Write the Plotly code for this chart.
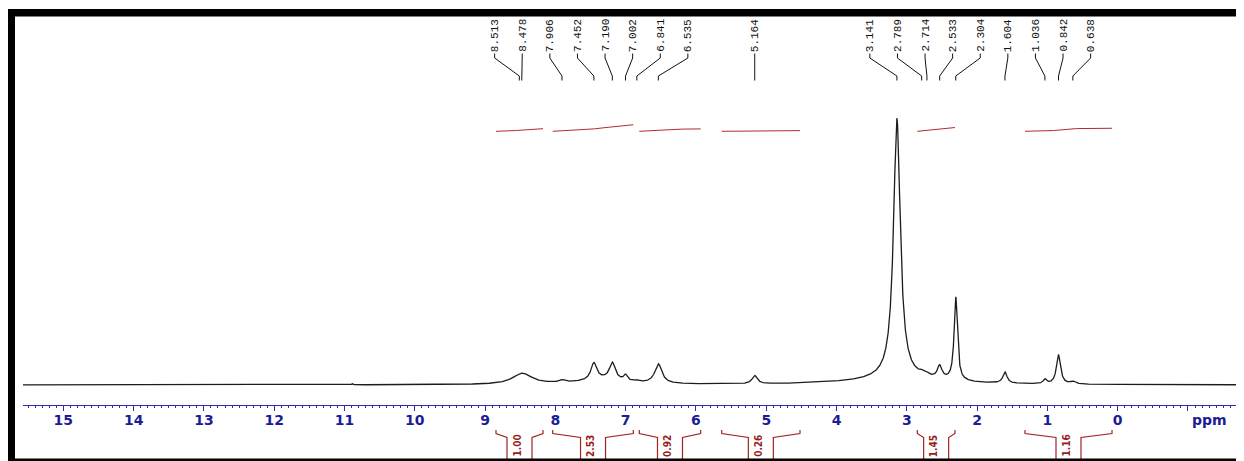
import numpy as np
import plotly.graph_objects as go

# ---------------- data ----------------
# Peak table: chemical shift (ppm), height above baseline, half width (ppm)
peak_ppm    = [10.89, 8.470, 7.906, 7.300, 7.452, 7.190, 7.002, 6.841, 6.535, 5.164,
               3.141, 3.141, 2.789, 2.714, 2.533, 2.304, 1.604, 1.036, 0.842, 0.638]
peak_height = [1.2, 11.0, 2.5, 5.0, 17.0, 17.0, 5.5, 1.5, 19.5, 8.3,
               260.0, 6.0, 2.5, 2.5, 12.7, 83.5, 11.2, 4.5, 29.0, 2.5]
peak_hwhm   = [0.008, 0.17, 0.05, 0.40, 0.05, 0.05, 0.03, 0.04, 0.06, 0.045,
               0.058, 0.80, 0.04, 0.04, 0.04, 0.028, 0.035, 0.025, 0.035, 0.04]

# Peak-pick labels printed at the top
label_ppm = [8.513, 8.478, 7.906, 7.452, 7.190, 7.002, 6.841, 6.535, 5.164,
             3.141, 2.789, 2.714, 2.533, 2.304, 1.604, 1.036, 0.842, 0.638]

# Integration regions and values
int_start = [8.845, 8.038, 6.806, 5.634, 2.851, 1.319]
int_end   = [8.176, 6.891, 5.933, 4.520, 2.315, 0.081]
int_value = [1.00, 2.53, 0.92, 0.26, 1.45, 1.16]

# Axis ticks
tick_ppm = list(range(15, -2, -1))
tick_text = [str(t) if t >= 0 else "" for t in tick_ppm]

# ---------------- geometry helpers (screen pixel layout) ----------------
OFF = 8                       # default page margin around the plot div
SW, SH = 1244, 461            # screen size
W, H = SW - OFF, SH - OFF     # figure size
PL, PR, PT, PB = 23, 1236, 16, 405   # plot area in screen pixels
ML, MR, MT, MB = PL - OFF, (OFF + W) - PR, PT - OFF, (OFF + H) - PB
PX0 = 1117.7          # screen pixel of 0 ppm
PXPPM = 70.29         # pixels per ppm


def px2ppm(px):
    return (PX0 - px) / PXPPM


X_RANGE = [px2ppm(PL), px2ppm(PR)]
BASE_PY = 385.0
Y_RANGE = [BASE_PY - PB, BASE_PY - PT]


def py2y(py):
    return BASE_PY - py


def py2paper(py):
    return (PB - py) / (PB - PT)


def px2paper(px):
    return (px - PL) / (PR - PL)


def lor(xv):
    out = np.zeros_like(xv)
    for p, h, g in zip(peak_ppm, peak_height, peak_hwhm):
        out += h * g * g / (g * g + (xv - p) ** 2)
    return out


# ---------------- spectrum ----------------
x = np.linspace(X_RANGE[0], X_RANGE[1], 9000)
y = lor(x)

fig = go.Figure()
fig.add_trace(go.Scatter(x=x, y=y, mode="lines",
                         line=dict(color="#1c1c1c", width=1.3),
                         hoverinfo="skip", showlegend=False))

# ---------------- integral curves ----------------
INT_COLOR = "#b32a2a"
for a, b, v in zip(int_start, int_end, int_value):
    xs = np.linspace(a, b, 400)
    ys = lor(xs)
    cum = np.concatenate([[0], np.cumsum((ys[1:] + ys[:-1]) / 2)])
    frac = cum / cum[-1]
    fig.add_trace(go.Scatter(x=xs, y=py2y(131.3) + 2.6 * v * frac, mode="lines",
                             line=dict(color=INT_COLOR, width=1),
                             hoverinfo="skip", showlegend=False))

# ---------------- peak labels with leader lines ----------------
SPACING = 27.6 / PXPPM
labels_sorted = sorted(label_ppm, reverse=True)
groups = [[p] for p in labels_sorted]


def g_center(gr):
    return float(np.mean(gr))


changed = True
while changed:
    changed = False
    for i in range(len(groups) - 1):
        a, b = groups[i], groups[i + 1]
        lo_a = g_center(a) - (len(a) - 1) / 2 * SPACING
        hi_b = g_center(b) + (len(b) - 1) / 2 * SPACING
        if lo_a - hi_b < SPACING:
            groups[i] = a + b
            del groups[i + 1]
            changed = True
            break

lx, ly = [], []
for gr in groups:
    c = g_center(gr)
    n = len(gr)
    for k, p in enumerate(gr):
        pos = c + ((n - 1) / 2 - k) * SPACING
        lx += [pos, pos, p, p, None]
        ly += [py2y(53.5), py2y(58), py2y(76), py2y(80.5), None]
        fig.add_annotation(x=pos, y=py2y(35.5), xref="x", yref="y",
                           xanchor="center", yanchor="middle",
                           text=f"{p:.3f}", textangle=-90, showarrow=False,
                           font=dict(family="Liberation Mono, DejaVu Sans Mono, monospace",
                                     size=11, color="#111111"))
fig.add_trace(go.Scatter(x=lx, y=ly, mode="lines",
                         line=dict(color="#111111", width=1),
                         hoverinfo="skip", showlegend=False))

# ---------------- integral brackets under the axis ----------------
BR_COLOR = "#a52222"
d = 12.5 / PXPPM
for a, b, v in zip(int_start, int_end, int_value):
    c = (a + b) / 2
    path = (f"M {a},{py2paper(430)} L {a},{py2paper(433.5)} "
            f"L {c + d},{py2paper(437.5)} L {c + d},{py2paper(459)} "
            f"M {c - d},{py2paper(459)} L {c - d},{py2paper(437.5)} "
            f"L {b},{py2paper(433.5)} L {b},{py2paper(430)}")
    fig.add_shape(type="path", path=path, xref="x", yref="paper",
                  line=dict(color=BR_COLOR, width=1.2))
    fig.add_annotation(x=c + 3 / PXPPM, y=py2paper(446), xref="x", yref="paper",
                       xanchor="center", yanchor="middle",
                       text=f"{v:.2f}", textangle=-90, showarrow=False,
                       font=dict(family="Liberation Sans Narrow, DejaVu Sans Condensed, Liberation Sans",
                                 size=10, color="#9a1b1b", weight="bold"))

# ---------------- ppm unit label ----------------
AX_COLOR = "#2b2ba6"
LBL_COLOR = "#1c1c96"
fig.add_annotation(x=px2ppm(1209), y=py2paper(419.5), xref="x", yref="paper",
                   xanchor="center", yanchor="middle",
                   text="ppm", showarrow=False,
                   font=dict(family="DejaVu Sans", size=14, color=LBL_COLOR, weight="bold"))

# ---------------- black frame ----------------
for (x0, y0, x1, y1) in [(7, 9, SW + 5, 16.5), (7, 9, 15, SH + 5), (7, 458.5, SW + 5, SH + 5)]:
    fig.add_shape(type="rect", xref="paper", yref="paper",
                  x0=px2paper(x0), x1=px2paper(x1), y0=py2paper(y0), y1=py2paper(y1),
                  fillcolor="black", line=dict(width=0), layer="above")

fig.update_layout(
    width=W, height=H, autosize=False,
    margin=dict(l=ML, r=MR, t=MT, b=MB, pad=0),
    paper_bgcolor="white", plot_bgcolor="white",
    showlegend=False,
    xaxis=dict(range=X_RANGE, showgrid=False, zeroline=False,
               showline=True, linecolor=AX_COLOR, linewidth=1,
               ticks="outside", ticklen=5, tickwidth=1, tickcolor=AX_COLOR,
               tickvals=tick_ppm, ticktext=tick_text, ticklabelstandoff=-3,
               tickfont=dict(family="DejaVu Sans", size=14, color=LBL_COLOR, weight="bold"),
               minor=dict(dtick=0.1, ticks="outside", ticklen=2, tickwidth=1, tickcolor=AX_COLOR),
               fixedrange=True),
    yaxis=dict(range=Y_RANGE, visible=False, fixedrange=True),
)

fig.write_html("out.html")
